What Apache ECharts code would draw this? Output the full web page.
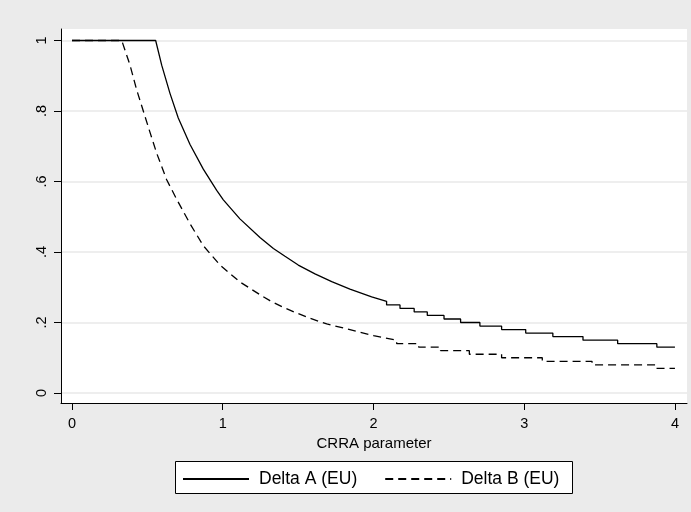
<!DOCTYPE html>
<html>
<head>
<meta charset="utf-8">
<script src="https://cdn.jsdelivr.net/npm/echarts@6/dist/echarts.min.js"></script>
<style>
html,body{margin:0;padding:0;background:#ebebeb;}
#chart{width:691px;height:512px;}
</style>
</head>
<body>
<div id="chart"></div>
<script>
// Delta A (EU) - solid
var aX = [0, 0.555, 0.595, 0.65, 0.705, 0.783, 0.871, 0.96, 1.004, 1.114, 1.247, 1.336, 1.413, 1.501, 1.612, 1.723, 1.844, 1.988, 2.087, 2.087, 2.176, 2.176, 2.27, 2.27, 2.357, 2.357, 2.468, 2.468, 2.578, 2.578, 2.706, 2.706, 2.85, 2.85, 3.01, 3.01, 3.19, 3.19, 3.39, 3.39, 3.62, 3.62, 3.88, 3.88, 4.0];
var aY = [1, 1, 0.93, 0.85, 0.78, 0.705, 0.635, 0.575, 0.548, 0.494, 0.441, 0.41, 0.388, 0.363, 0.338, 0.316, 0.295, 0.273, 0.26, 0.25, 0.25, 0.24, 0.24, 0.23, 0.23, 0.22, 0.22, 0.21, 0.21, 0.20, 0.20, 0.19, 0.19, 0.18, 0.18, 0.17, 0.17, 0.16, 0.16, 0.15, 0.15, 0.14, 0.14, 0.13, 0.13];
// Delta B (EU) - dashed
var bX = [0, 0.33, 0.385, 0.429, 0.473, 0.517, 0.562, 0.628, 0.694, 0.783, 0.871, 0.982, 1.114, 1.269, 1.313, 1.402, 1.49, 1.579, 1.69, 1.822, 2.0, 2.154, 2.154, 2.30, 2.30, 2.445, 2.445, 2.636, 2.636, 2.85, 2.85, 3.12, 3.12, 3.45, 3.45, 3.87, 3.87, 4.0];
var bY = [1, 1, 0.93, 0.86, 0.80, 0.74, 0.68, 0.605, 0.55, 0.48, 0.418, 0.363, 0.315, 0.273, 0.262, 0.243, 0.227, 0.212, 0.196, 0.182, 0.163, 0.15, 0.14, 0.14, 0.13, 0.13, 0.12, 0.12, 0.11, 0.11, 0.10, 0.10, 0.09, 0.09, 0.08, 0.08, 0.07, 0.07];

var xTicks = [0, 1, 2, 3, 4];
var yTicks = [0, 0.2, 0.4, 0.6, 0.8, 1];
var yTickLabels = ['0', '.2', '.4', '.6', '.8', '1'];
var seriesNames = ['Delta A (EU)', 'Delta B (EU)'];
var xTitle = 'CRRA parameter';

function zip(xs, ys) { return xs.map(function (x, i) { return [x, ys[i]]; }); }

var font = 'Liberation Sans, Arial, sans-serif';
var chart = echarts.init(document.getElementById('chart'), null, {renderer: 'canvas'});
chart.setOption({
  backgroundColor: '#ebebeb',
  animation: false,
  grid: {left: 61, top: 29, right: 4, bottom: 109, show: true, backgroundColor: '#ffffff', borderWidth: 0, containLabel: false},
  xAxis: {
    type: 'value', min: -0.073, max: 4.08,
    axisLine: {show: true, onZero: false, lineStyle: {color: '#000', width: 1}},
    axisTick: {show: true, customValues: xTicks, length: 7, lineStyle: {color: '#000'}},
    axisLabel: {customValues: xTicks, color: '#000', fontSize: 14.5, fontFamily: font, margin: 13,
      formatter: function (v) { return String(v); }},
    splitLine: {show: false},
    name: xTitle, nameLocation: 'middle', nameGap: 29,
    nameTextStyle: {color: '#000', fontSize: 15, fontFamily: font}
  },
  yAxis: {
    type: 'value', min: -0.0283, max: 1.0326,
    axisLine: {show: true, onZero: false, lineStyle: {color: '#000', width: 1}},
    axisTick: {show: true, customValues: yTicks, length: 7, lineStyle: {color: '#000'}},
    axisLabel: {customValues: yTicks, rotate: 90, color: '#000', fontSize: 14.5, fontFamily: font, margin: 12,
      formatter: function (v) { var i = yTicks.findIndex(function (t) { return Math.abs(t - v) < 1e-6; }); return i >= 0 ? yTickLabels[i] : ''; }},
    splitLine: {show: false}
  },
  legend: {
    data: seriesNames,
    left: 182, top: 470, padding: 0,
    itemWidth: 66, itemHeight: 14, itemGap: 27,
    itemStyle: {color: 'rgba(0,0,0,0)', borderWidth: 0, opacity: 0},
    textStyle: {color: '#000', fontSize: 17.5, fontFamily: font, padding: [0, 0, 0, 5]}
  },
  graphic: [{
    type: 'rect', left: 175, top: 461, z: -1,
    shape: {width: 397, height: 32},
    style: {fill: '#ffffff', stroke: '#000', lineWidth: 1}
  }],
  series: [
    {
      name: 'grid', type: 'line', data: [], silent: true, z: 0,
      markLine: {silent: true, z: 0, symbol: 'none', label: {show: false},
        lineStyle: {color: '#e8e8e8', width: 1.5, type: 'solid'},
        data: yTicks.map(function (t) { return {yAxis: t}; })}
    },
    {
      name: seriesNames[0], type: 'line', data: zip(aX, aY), showSymbol: false, symbol: 'none', z: 3,
      lineStyle: {color: '#000', width: 1.3, type: 'solid'}, itemStyle: {color: '#000'}
    },
    {
      name: seriesNames[1], type: 'line', data: zip(bX, bY), showSymbol: false, symbol: 'none', z: 3,
      lineStyle: {color: '#000', width: 1.3, type: [8, 5]}, itemStyle: {color: '#000'}
    }
  ]
});
</script>
</body>
</html>
